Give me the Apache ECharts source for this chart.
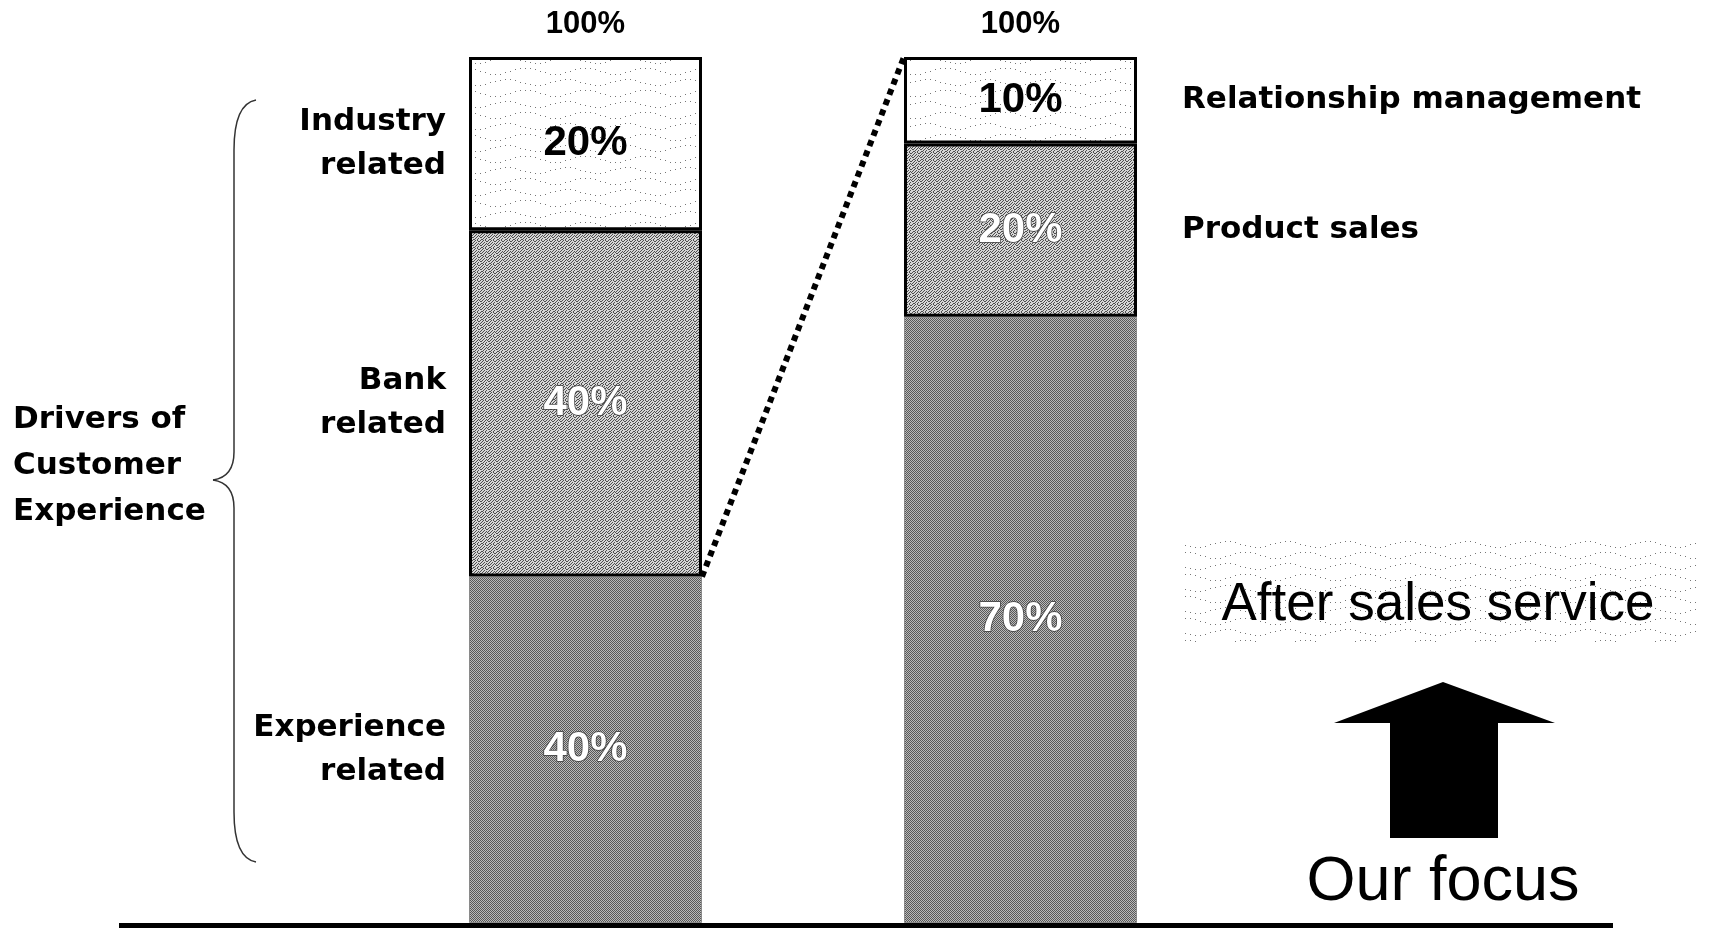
<!DOCTYPE html>
<html>
<head>
<meta charset="utf-8">
<title>Drivers of Customer Experience</title>
<script src="https://cdn.jsdelivr.net/npm/echarts@6/dist/echarts.min.js"></script>
<style>
  html, body { margin: 0; padding: 0; background: #fff; }
  #chart { width: 1712px; height: 928px; }
</style>
</head>
<body>
<div id="chart"></div>
<script>
// bars: overall drivers, then the breakdown of "Experience related"
const bars = ["All drivers", "Experience related"];
const totals = [100, 100];
const topShare = [20, 10];   // Industry related / Relationship management
const midShare = [40, 20];   // Bank related / Product sales
const baseShare = [40, 70];  // Experience related / After sales service
const leftNames = ["Industry\nrelated", "Bank\nrelated", "Experience\nrelated"];
const rightNames = ["Relationship management", "Product sales"];

const BAR_WIDTH = 233;
const PCT_FONT = "Liberation Sans";
const LABEL_FONT = "bold 31px 'DejaVu Sans'";

function makeCanvas(w, h, draw) {
  const c = document.createElement("canvas");
  c.width = w;
  c.height = h;
  draw(c.getContext("2d"), w, h);
  return c;
}

// fine checker, mid grey
const checker = makeCanvas(2, 2, (ctx) => {
  ctx.fillStyle = "#bababa";
  ctx.fillRect(0, 0, 2, 2);
  ctx.fillStyle = "#585858";
  ctx.fillRect(0, 0, 1, 1);
  ctx.fillRect(1, 1, 1, 1);
});

// speckled grey, a bit lighter and rougher
const SPECKLE = [
  "10010100",
  "00100011",
  "01001000",
  "10010010",
  "00100101",
  "11001000",
  "00010010",
  "01100100"
];
const speckle = makeCanvas(8, 8, (ctx) => {
  ctx.fillStyle = "#d6d6d6";
  ctx.fillRect(0, 0, 8, 8);
  ctx.fillStyle = "#4e4e4e";
  SPECKLE.forEach((row, y) => {
    for (let x = 0; x < 8; x++) {
      if (row[x] === "1") ctx.fillRect(x, y, 1, 1);
    }
  });
});

// sparse wavy dots on white
const dots = makeCanvas(60, 22, (ctx, w, h) => {
  ctx.fillStyle = "#fff";
  ctx.fillRect(0, 0, w, h);
  ctx.fillStyle = "#777";
  for (let row = 0; row < 2; row++) {
    for (let x = 0; x < w; x += 5) {
      const y = row * 11 + 5 + Math.round(3 * Math.sin((x / w) * 2 * Math.PI + row * 2));
      ctx.fillRect(x, y, 1, 1);
    }
  }
});

const pct = (color, border) => ({
  show: true,
  position: "inside",
  formatter: "{c}%",
  color: color,
  fontFamily: PCT_FONT,
  fontWeight: "bold",
  fontSize: 42,
  textBorderColor: border || "transparent",
  textBorderWidth: border ? 1.5 : 0
});

const chart = echarts.init(document.getElementById("chart"));

chart.setOption({
  backgroundColor: "#fff",
  animation: false,
  grid: { left: 368, right: 474, top: 57, bottom: 5 },
  xAxis: { type: "category", data: bars, show: false },
  yAxis: { type: "value", min: 0, max: 100, show: false },
  series: [
    {
      name: "Experience related",
      type: "bar",
      stack: "share",
      barWidth: BAR_WIDTH,
      barGap: "-100%",
      data: baseShare,
      itemStyle: { color: { image: checker, repeat: "repeat" }, borderColor: "#8a8a8a", borderWidth: 1 },
      label: pct("#fff", "#3c3c3c")
    },
    {
      name: "Bank related",
      type: "bar",
      stack: "share",
      barWidth: BAR_WIDTH,
      barGap: "-100%",
      data: midShare,
      itemStyle: { color: { image: speckle, repeat: "repeat" }, borderColor: "#000", borderWidth: 3 },
      label: pct("#fff", "#3c3c3c")
    },
    {
      name: "Industry related",
      type: "bar",
      stack: "share",
      barWidth: BAR_WIDTH,
      barGap: "-100%",
      data: topShare,
      itemStyle: { color: { image: dots, repeat: "repeat" }, borderColor: "#000", borderWidth: 3 },
      label: pct("#000")
    },
    {
      name: "Total",
      type: "bar",
      barWidth: BAR_WIDTH,
      barGap: "-100%",
      data: totals,
      z: 1,
      silent: true,
      itemStyle: { color: "transparent" },
      label: {
        show: true,
        position: "top",
        distance: 17,
        formatter: "{c}%",
        color: "#000",
        fontFamily: PCT_FONT,
        fontWeight: "bold",
        fontSize: 31
      }
    },
    {
      // dotted link from the top of "Experience related" to the top of its breakdown
      type: "custom",
      silent: true,
      z: 5,
      data: [[bars[0], baseShare[0], bars[1], totals[1]]],
      encode: { x: [0, 2], y: [1, 3] },
      renderItem(params, api) {
        const a = api.coord([api.value(0), api.value(1)]);
        const b = api.coord([api.value(2), api.value(3)]);
        const half = BAR_WIDTH / 2;
        return {
          type: "line",
          shape: { x1: a[0] + half, y1: a[1], x2: b[0] - half, y2: b[1] },
          style: { stroke: "#000", lineWidth: 6, lineDash: [6, 5] }
        };
      }
    }
  ]
});

function centers(i) {
  const b = baseShare[i];
  const m = midShare[i];
  const t = topShare[i];
  return [b + m + t / 2, b + m / 2, b / 2];
}

function py(i, v) {
  return chart.convertToPixel({ gridIndex: 0 }, [i, v])[1];
}

const leftC = centers(0);
const rightC = centers(1);

const textEl = (text, x, y, align, font, extra) => ({
  type: "text",
  silent: true,
  style: Object.assign({
    text: text,
    x: x,
    y: y,
    fill: "#000",
    font: font,
    align: align,
    textAlign: align,
    verticalAlign: "middle",
    textVerticalAlign: "middle",
    lineHeight: 44
  }, extra || {})
});

const braceStroke = { stroke: "#333", lineWidth: 1.5, fill: null };
const curve = (x1, y1, cx, cy, x2, y2) => ({
  type: "bezierCurve",
  silent: true,
  shape: { x1: x1, y1: y1, cpx1: cx, cpy1: cy, x2: x2, y2: y2 },
  style: braceStroke
});
const seg = (x1, y1, x2, y2, style) => ({
  type: "line",
  silent: true,
  shape: { x1: x1, y1: y1, x2: x2, y2: y2 },
  style: style
});

const graphic = [
  seg(119, 925.5, 1613, 925.5, { stroke: "#000", lineWidth: 5 }),
  // curly brace
  curve(256, 100, 234, 104, 234, 150),
  seg(234, 150, 234, 452, braceStroke),
  curve(234, 452, 234, 477, 213, 480),
  curve(213, 480, 234, 483, 234, 508),
  seg(234, 508, 234, 812, braceStroke),
  curve(234, 812, 234, 858, 256, 862),
  textEl("Drivers of\nCustomer\nExperience", 13, 466, "left", LABEL_FONT, { lineHeight: 46 }),
  {
    type: "rect",
    silent: true,
    shape: { x: 1184, y: 537, width: 516, height: 105 },
    style: { fill: { image: dots, repeat: "repeat" } }
  },
  textEl("After sales service", 1438, 605, "center", "53px 'Liberation Sans'"),
  {
    type: "polygon",
    silent: true,
    shape: {
      points: [[1443, 682], [1555, 723], [1498, 723], [1498, 838], [1390, 838], [1390, 723], [1334, 723]]
    },
    style: { fill: "#000" }
  },
  textEl("Our focus", 1443, 883, "center", "63px 'Liberation Sans'")
];

leftNames.forEach((name, k) => {
  graphic.push(textEl(name, 446, py(0, leftC[k]), "right", LABEL_FONT));
});
rightNames.forEach((name, k) => {
  graphic.push(textEl(name, 1182, py(1, rightC[k]), "left", LABEL_FONT));
});

chart.setOption({ graphic: graphic });
</script>
</body>
</html>
